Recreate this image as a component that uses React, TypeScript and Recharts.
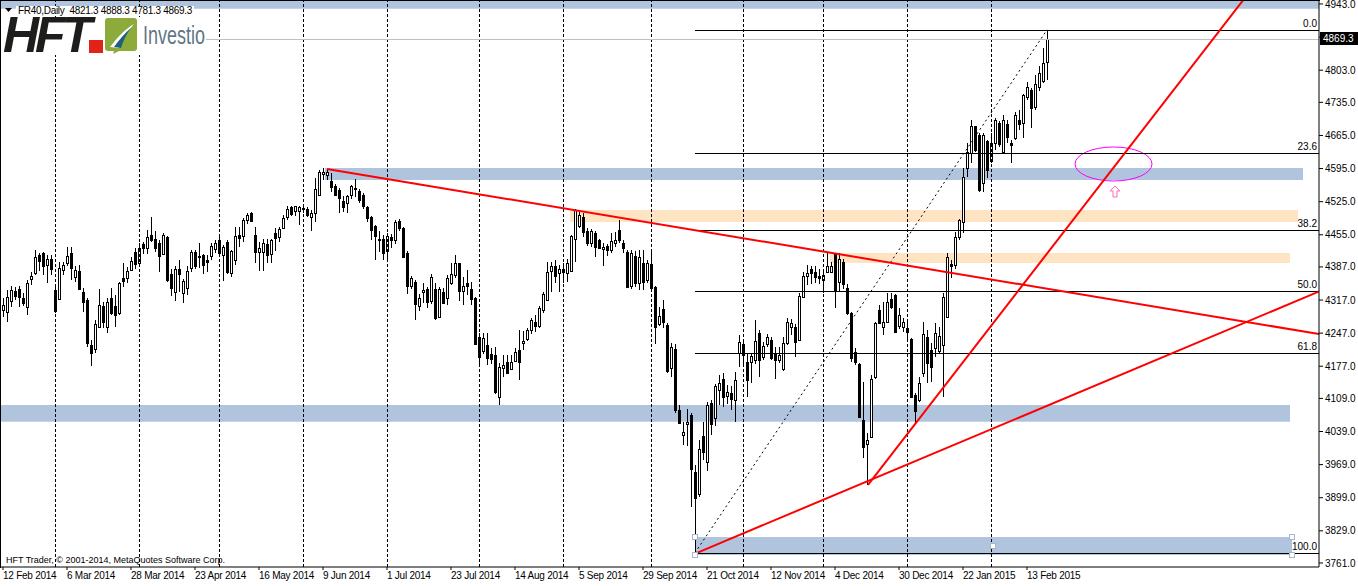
import React from "react";
import {
  ComposedChart,
  Bar,
  XAxis,
  YAxis,
  ReferenceLine,
  ReferenceArea,
  ReferenceDot,
} from "recharts";

const FONT = '"Liberation Sans", Arial, sans-serif';

// one label every 16 bars
const dateLabels = [
  "12 Feb 2014", "6 Mar 2014", "28 Mar 2014", "23 Apr 2014", "16 May 2014", "9 Jun 2014",
  "1 Jul 2014", "23 Jul 2014", "14 Aug 2014", "5 Sep 2014", "29 Sep 2014", "21 Oct 2014",
  "12 Nov 2014", "4 Dec 2014", "30 Dec 2014", "22 Jan 2015", "13 Feb 2015",
];
const LABEL_STEP = 16;

// FR40 daily OHLC, 12 Feb 2014 .. 20 Feb 2015
const opens = [
  4296, 4292, 4314, 4337, 4340, 4322, 4303, 4362, 4374, 4412,
  4417, 4392, 4403, 4338, 4319, 4381, 4396, 4417, 4365, 4378,
  4334, 4317, 4222, 4213, 4261, 4304, 4259, 4321, 4304, 4289,
  4363, 4363, 4381, 4419, 4396, 4436, 4426, 4455, 4445, 4438,
  4414, 4450, 4371, 4335, 4382, 4331, 4342, 4384, 4419, 4410,
  4412, 4402, 4410, 4424, 4443, 4412, 4440, 4375, 4402, 4455,
  4452, 4486, 4502, 4455, 4419, 4419, 4436, 4414, 4458, 4450,
  4470, 4493, 4513, 4506, 4506, 4509, 4509, 4493, 4500, 4540,
  4584, 4581, 4569, 4558, 4550, 4527, 4522, 4539, 4551, 4548,
  4539, 4513, 4492, 4474, 4445, 4447, 4421, 4451, 4443, 4485,
  4469, 4416, 4347, 4356, 4304, 4333, 4340, 4314, 4340, 4282,
  4335, 4321, 4354, 4370, 4395, 4337, 4354, 4340, 4321, 4238,
  4210, 4222, 4203, 4201, 4111, 4173, 4185, 4171, 4189, 4211,
  4226, 4234, 4254, 4270, 4262, 4296, 4317, 4379, 4389, 4375,
  4382, 4375, 4379, 4446, 4474, 4492, 4462, 4437, 4458, 4443,
  4424, 4431, 4423, 4438, 4465, 4438, 4419, 4347, 4410, 4352,
  4395, 4359, 4393, 4344, 4266, 4297, 4264, 4173, 4213, 4084,
  4032, 4054, 4074, 3954, 3907, 4029, 3975, 4099, 4067, 4127,
  4149, 4114, 4121, 4105, 4204, 4224, 4187, 4185, 4190, 4247,
  4196, 4224, 4233, 4203, 4190, 4171, 4226, 4259, 4259, 4233,
  4324, 4368, 4382, 4377, 4368, 4359, 4377, 4377, 4416, 4356,
  4398, 4342, 4290, 4208, 4182, 4063, 4013, 4028, 4155, 4296,
  4261, 4271, 4319, 4328, 4262, 4259, 4257, 4234, 4116, 4106,
  4163, 4238, 4211, 4215, 4210, 4222, 4282, 4393, 4391, 4451,
  4483, 4596, 4627, 4684, 4666, 4564, 4654, 4610, 4648, 4691,
  4631, 4689, 4650, 4659, 4698, 4691, 4746, 4761, 4726, 4768,
  4781, 4821.3,
];
const highs = [
  4321, 4338, 4347, 4344, 4347, 4331, 4359, 4377, 4423, 4416,
  4419, 4412, 4412, 4349, 4398, 4398, 4430, 4430, 4388, 4391,
  4342, 4321, 4233, 4275, 4340, 4312, 4321, 4342, 4328, 4356,
  4395, 4386, 4407, 4426, 4438, 4440, 4465, 4493, 4462, 4444,
  4458, 4452, 4382, 4388, 4402, 4361, 4389, 4423, 4423, 4438,
  4414, 4412, 4438, 4444, 4450, 4433, 4444, 4423, 4471, 4471,
  4490, 4502, 4504, 4471, 4440, 4445, 4445, 4445, 4469, 4471,
  4497, 4515, 4515, 4516, 4516, 4516, 4513, 4507, 4574, 4591,
  4596, 4595, 4586, 4562, 4553, 4536, 4539, 4560, 4572, 4551,
  4543, 4516, 4495, 4476, 4462, 4455, 4458, 4457, 4486, 4489,
  4472, 4420, 4368, 4360, 4330, 4352, 4345, 4372, 4352, 4345,
  4342, 4370, 4396, 4412, 4396, 4365, 4381, 4356, 4324, 4247,
  4248, 4248, 4215, 4217, 4183, 4201, 4201, 4201, 4215, 4254,
  4252, 4257, 4280, 4285, 4305, 4335, 4398, 4398, 4402, 4391,
  4395, 4403, 4455, 4509, 4504, 4500, 4469, 4467, 4462, 4445,
  4438, 4436, 4458, 4460, 4486, 4443, 4423, 4423, 4420, 4423,
  4423, 4402, 4423, 4346, 4302, 4318, 4268, 4226, 4225, 4095,
  4060, 4086, 4079, 3968, 4020, 4060, 4102, 4106, 4140, 4158,
  4162, 4138, 4135, 4165, 4243, 4233, 4204, 4204, 4275, 4254,
  4229, 4245, 4238, 4218, 4218, 4238, 4280, 4276, 4266, 4331,
  4377, 4391, 4388, 4389, 4382, 4379, 4416, 4398, 4417, 4416,
  4403, 4350, 4292, 4215, 4183, 4144, 4035, 4159, 4271, 4307,
  4312, 4331, 4331, 4330, 4300, 4280, 4270, 4236, 4120, 4155,
  4271, 4254, 4226, 4268, 4261, 4331, 4416, 4402, 4460, 4488,
  4596, 4648, 4697, 4685, 4670, 4670, 4655, 4670, 4701, 4695,
  4708, 4698, 4655, 4715, 4719, 4752, 4779, 4765, 4793, 4811,
  4849, 4888.3,
];
const lows = [
  4282, 4271, 4302, 4317, 4303, 4304, 4285, 4349, 4370, 4379,
  4370, 4352, 4370, 4289, 4317, 4370, 4388, 4359, 4356, 4338,
  4292, 4218, 4178, 4206, 4257, 4257, 4247, 4285, 4259, 4285,
  4345, 4354, 4379, 4383, 4395, 4414, 4414, 4440, 4419, 4377,
  4412, 4356, 4326, 4316, 4335, 4311, 4328, 4377, 4382, 4384,
  4372, 4377, 4402, 4417, 4409, 4358, 4372, 4365, 4391, 4430,
  4440, 4478, 4483, 4395, 4379, 4379, 4395, 4396, 4421, 4440,
  4467, 4486, 4495, 4495, 4476, 4500, 4493, 4464, 4481, 4536,
  4571, 4571, 4546, 4536, 4502, 4504, 4502, 4530, 4534, 4522,
  4509, 4483, 4444, 4402, 4419, 4402, 4401, 4428, 4436, 4462,
  4405, 4330, 4340, 4275, 4293, 4310, 4300, 4309, 4275, 4278,
  4309, 4307, 4349, 4363, 4314, 4307, 4328, 4307, 4222, 4176,
  4203, 4180, 4182, 4118, 4095, 4155, 4161, 4168, 4185, 4148,
  4211, 4231, 4245, 4250, 4258, 4290, 4315, 4335, 4352, 4335,
  4352, 4356, 4377, 4398, 4469, 4450, 4431, 4430, 4409, 4424,
  4388, 4410, 4416, 4430, 4437, 4417, 4342, 4340, 4345, 4338,
  4338, 4352, 4338, 4225, 4262, 4257, 4163, 4155, 4078, 4055,
  4010, 4008, 3880, 3782.5, 3900, 3978, 3956, 4032, 4050, 4095,
  4090, 4098, 4085, 4060, 4176, 4176, 4111, 4141, 4182, 4154,
  4190, 4217, 4190, 4149, 4183, 4166, 4222, 4243, 4196, 4231,
  4323, 4349, 4351, 4354, 4351, 4331, 4374, 4374, 4300, 4337,
  4340, 4285, 4187, 4180, 4069, 3982, 3926, 4025, 4151, 4268,
  4243, 4269, 4297, 4247, 4255, 4250, 4230, 4111, 4056, 4102,
  4155, 4141, 4144, 4197, 4204, 4113, 4279, 4363, 4383, 4444,
  4458, 4578, 4606, 4631, 4546, 4546, 4574, 4606, 4634, 4640,
  4629, 4650, 4607, 4655, 4677, 4659, 4740, 4680, 4719, 4758,
  4775, 4781.3,
];
const closes = [
  4307, 4323, 4338, 4326, 4324, 4310, 4354, 4368, 4407, 4400,
  4390, 4403, 4382, 4294, 4384, 4391, 4410, 4384, 4381, 4340,
  4312, 4227, 4206, 4266, 4307, 4271, 4312, 4290, 4285, 4352,
  4358, 4379, 4400, 4393, 4426, 4428, 4450, 4444, 4428, 4410,
  4455, 4359, 4343, 4382, 4372, 4358, 4379, 4419, 4389, 4407,
  4391, 4398, 4432, 4437, 4417, 4430, 4377, 4421, 4452, 4448,
  4486, 4497, 4485, 4419, 4426, 4437, 4412, 4443, 4448, 4467,
  4490, 4509, 4499, 4515, 4513, 4511, 4497, 4502, 4551, 4588,
  4588, 4588, 4555, 4539, 4532, 4514, 4536, 4558, 4553, 4529,
  4516, 4490, 4465, 4452, 4444, 4417, 4452, 4443, 4481, 4469,
  4409, 4347, 4363, 4309, 4321, 4338, 4312, 4365, 4278, 4340,
  4310, 4363, 4372, 4396, 4337, 4347, 4347, 4319, 4224, 4197,
  4236, 4194, 4192, 4123, 4175, 4180, 4162, 4187, 4208, 4187,
  4231, 4254, 4275, 4262, 4300, 4330, 4377, 4389, 4368, 4382,
  4377, 4396, 4452, 4507, 4497, 4460, 4437, 4462, 4430, 4426,
  4430, 4423, 4441, 4444, 4444, 4426, 4345, 4416, 4352, 4407,
  4356, 4395, 4342, 4259, 4283, 4271, 4166, 4217, 4084, 4056,
  4037, 4060, 3959, 3898, 4001, 3996, 4095, 4055, 4135, 4142,
  4113, 4123, 4107, 4148, 4229, 4201, 4148, 4199, 4231, 4190,
  4220, 4238, 4194, 4190, 4201, 4227, 4271, 4269, 4229, 4326,
  4368, 4374, 4374, 4365, 4363, 4370, 4388, 4389, 4337, 4403,
  4350, 4290, 4194, 4187, 4070, 4006, 4021, 4151, 4268, 4269,
  4271, 4312, 4303, 4250, 4285, 4271, 4250, 4113, 4083, 4141,
  4245, 4183, 4176, 4248, 4240, 4324, 4409, 4388, 4451, 4486,
  4578, 4631, 4685, 4634, 4550, 4666, 4592, 4648, 4698, 4647,
  4698, 4661, 4645, 4708, 4689, 4751, 4768, 4722, 4774, 4796,
  4819, 4869.3,
];

// first bar of each month (period separators)
const monthStarts = [13, 34, 54, 75, 96, 119, 140, 162, 185, 205, 226, 247];

const priceTicks = [
  4943, 4873, 4803, 4735, 4665, 4595, 4525, 4455, 4387, 4317, 4247, 4177,
  4109, 4039, 3969, 3899, 3829, 3761,
];

const fibLevels = [0, 23.6, 38.2, 50, 61.8, 100];
const fibHigh = 4888.3;
const fibLow = 3782.5;
const fibFromBar = 173;
const fibToBar = 261;
const lastPrice = 4869.3;

// zones: [fromBar, toBar, lowPrice, highPrice]
const blueZones = [
  [-0.5, 329, 4933, 4960],
  [80.5, 325, 4570.8, 4596.2],
  [-0.5, 321.75, 4059.8, 4095.1],
  [173, 322.25, 3778, 3816],
];
const peachZones = [
  [141.75, 323.75, 4482, 4507.4],
  [206.75, 321.75, 4395.4, 4416.5],
];

// trend lines: [bar1, price1, bar2, price2]
const trendLines = [
  [81, 4594.1, 335, 4236.7],
  [173.5, 3782.5, 335, 4356.3],
  [216.25, 3926, 335, 5224],
];

const candles = opens.map((o, i) => ({
  i,
  o,
  h: highs[i],
  l: lows[i],
  c: closes[i],
  range: [lows[i], highs[i]],
}));

const Candle = (props: any) => {
  const { x, y, width, height, payload } = props;
  if (!payload || payload.o == null) return null;
  const { o, h, l, c } = payload;
  const top = Math.min(y, y + height);
  const hh = Math.abs(height);
  const cx = Math.round(x + width / 2);
  const py = (v: number) => (h === l ? top : top + ((h - v) / (h - l)) * hh);
  const bTop = Math.round(py(Math.max(o, c)));
  const bBot = Math.round(py(Math.min(o, c)));
  const bull = c >= o;
  return (
    <g>
      <line x1={cx + 0.5} x2={cx + 0.5} y1={Math.round(top)} y2={Math.round(top + hh)} stroke="#000" />
      <rect
        x={cx - 0.5}
        y={bTop + 0.5}
        width={2}
        height={Math.max(bBot - bTop, 0)}
        fill={bull ? "#fff" : "#000"}
        stroke="#000"
      />
    </g>
  );
};

const CrispLine = (p: any) => {
  const { x1, y1, x2, y2, stroke, strokeDasharray, clipPath } = p;
  const vert = Math.abs(x1 - x2) < 0.01;
  const hor = Math.abs(y1 - y2) < 0.01;
  return (
    <line
      x1={vert ? Math.round(x1) + 0.5 : x1}
      x2={vert ? Math.round(x2) + 0.5 : x2}
      y1={hor ? Math.round(y1) + 0.5 : y1}
      y2={hor ? Math.round(y2) + 0.5 : y2}
      stroke={stroke}
      strokeDasharray={strokeDasharray}
      strokeWidth={1}
      clipPath={clipPath}
    />
  );
};

const DateTick = (props: any) => {
  const { x, y, payload } = props;
  const label = dateLabels[Math.round(payload.value / LABEL_STEP)];
  return (
    <text
      x={x}
      y={y + 8}
      fontSize={10}
      fontFamily={FONT}
      letterSpacing={-0.25}
      fill="#000"
      textAnchor="start"
    >
      {label}
    </text>
  );
};

const Ellipse = (props: any) => {
  const { x, y, width, height } = props;
  return (
    <ellipse
      cx={x + width / 2}
      cy={y + height / 2}
      rx={width / 2}
      ry={height / 2}
      fill="none"
      stroke="#ff00ff"
      strokeWidth={1}
    />
  );
};

const UpArrow = (props: any) => {
  const { cx, cy } = props;
  const d = `M${cx},${cy - 6} L${cx + 5},${cy - 1} L${cx + 2},${cy - 1} L${cx + 2},${cy + 5} L${cx - 2},${cy + 5} L${cx - 2},${cy - 1} L${cx - 5},${cy - 1} Z`;
  return <path d={d} fill="none" stroke="#ff69b4" strokeWidth={1} />;
};

const Handle = (props: any) => {
  const { cx, cy, fill } = props;
  return (
    <rect x={Math.round(cx) - 2.5} y={Math.round(cy) - 2.5} width={5} height={5} fill={fill} stroke="#aab6c8" />
  );
};

const fibLabel = (text: string) => (props: any) => {
  const { cx, cy } = props;
  return (
    <text x={cx + 2} y={cy - 3} fontSize={10} fontFamily={FONT} fill="#000" textAnchor="end">
      {text}
    </text>
  );
};

export default function App() {
  const fibPrice = (lvl: number) => fibHigh - (lvl / 100) * (fibHigh - fibLow);
  return (
    <div
      style={{
        position: "absolute",
        left: 0,
        top: 0,
        width: 1358,
        height: 586,
        background: "#fff",
        overflow: "hidden",
        fontFamily: FONT,
      }}
    >
      <ComposedChart
        width={1358}
        height={586}
        data={candles}
        margin={{ top: 1, right: 0, bottom: 1, left: 1 }}
      >
        <XAxis
          dataKey="i"
          type="number"
          domain={[-0.5, 329]}
          allowDataOverflow
          ticks={dateLabels.map((_, k) => k * LABEL_STEP)}
          interval={0}
          height={18}
          tickSize={3}
          tickMargin={1}
          stroke="#000"
          tick={<DateTick />}
        />
        <YAxis
          orientation="right"
          type="number"
          domain={[3752.5, 4949.3]}
          allowDataOverflow
          ticks={priceTicks}
          interval={0}
          width={39}
          tickSize={4}
          tickMargin={2}
          stroke="#000"
          tick={{ fontSize: 10, fill: "#000", fontFamily: FONT }}
          tickFormatter={(v: number) => v.toFixed(1)}
        />

        {blueZones.map((z, k) => (
          <ReferenceArea
            key={"b" + k}
            x1={z[0]}
            x2={z[1]}
            y1={z[2]}
            y2={z[3]}
            fill="#b0c4de"
            fillOpacity={1}
            stroke="none"
            ifOverflow="hidden"
          />
        ))}
        {peachZones.map((z, k) => (
          <ReferenceArea
            key={"p" + k}
            x1={z[0]}
            x2={z[1]}
            y1={z[2]}
            y2={z[3]}
            fill="#ffe4c4"
            fillOpacity={1}
            stroke="none"
            ifOverflow="hidden"
          />
        ))}

        {monthStarts.map((m) => (
          <ReferenceLine
            key={"m" + m}
            x={m}
            stroke="#000"
            strokeDasharray="3 2"
            ifOverflow="hidden"
            shape={<CrispLine />}
          />
        ))}

        <ReferenceLine y={lastPrice} stroke="#c0c0c0" ifOverflow="hidden" shape={<CrispLine />} />

        {fibLevels.map((lvl) => (
          <ReferenceLine
            key={"f" + lvl}
            segment={[
              { x: fibFromBar, y: fibPrice(lvl) },
              { x: 329, y: fibPrice(lvl) },
            ]}
            stroke="#000"
            ifOverflow="hidden"
            shape={<CrispLine />}
          />
        ))}
        {fibLevels.map((lvl) => (
          <ReferenceDot
            key={"fl" + lvl}
            x={328}
            y={fibPrice(lvl)}
            r={1}
            ifOverflow="hidden"
            shape={fibLabel(lvl.toFixed(1))}
          />
        ))}
        <ReferenceLine
          segment={[
            { x: fibFromBar, y: fibLow },
            { x: fibToBar, y: fibHigh },
          ]}
          stroke="#000"
          strokeWidth={1}
          strokeDasharray="2 3"
          ifOverflow="hidden"
        />

        <Bar dataKey="range" barSize={3} isAnimationActive={false} shape={<Candle />} />

        {trendLines.map((t, k) => (
          <ReferenceLine
            key={"t" + k}
            segment={[
              { x: t[0], y: t[1] },
              { x: t[2], y: t[3] },
            ]}
            stroke="#ff0000"
            strokeWidth={2}
            ifOverflow="hidden"
          />
        ))}

        <ReferenceArea
          x1={268}
          x2={287.25}
          y1={4568.7}
          y2={4640.6}
          ifOverflow="hidden"
          shape={<Ellipse />}
        />
        <ReferenceDot x={278} y={4545.5} r={5} ifOverflow="hidden" shape={<UpArrow />} />

        <ReferenceDot x={173} y={3816} r={2} ifOverflow="hidden" shape={<Handle fill="#fff" />} />
        <ReferenceDot x={173} y={3778} r={2} ifOverflow="hidden" shape={<Handle fill="#fff" />} />
        <ReferenceDot x={322.25} y={3816} r={2} ifOverflow="hidden" shape={<Handle fill="#fff" />} />
        <ReferenceDot x={322.25} y={3778} r={2} ifOverflow="hidden" shape={<Handle fill="#fff" />} />
        <ReferenceDot x={247.6} y={3797} r={2} ifOverflow="hidden" shape={<Handle fill="#fff" />} />
      </ComposedChart>

      {/* frame top/left */}
      <div
        style={{
          position: "absolute",
          left: 0,
          top: 0,
          width: 1320,
          height: 568,
          borderTop: "1px solid #000",
          borderLeft: "1px solid #000",
          boxSizing: "border-box",
          pointerEvents: "none",
        }}
      />

      {/* header */}
      <svg style={{ position: "absolute", left: 5, top: 8 }} width={8} height={5}>
        <path d="M0,0 H7 L3.5,4 Z" fill="#000" />
      </svg>
      <div
        style={{
          position: "absolute",
          left: 16,
          top: 6,
          height: 10,
          padding: "0 2px",
          background: "#fff",
          fontSize: 10,
          lineHeight: "10px",
          letterSpacing: -0.3,
          color: "#000",
          whiteSpace: "pre",
        }}
      >
        {"FR40,Daily  4821.3 4888.3 4781.3 4869.3"}
      </div>

      {/* logo */}
      <div
        style={{
          position: "absolute",
          left: 1,
          top: 17,
          width: 205,
          height: 38,
          background: "#fff",
        }}
      >
        <span
          style={{
            position: "absolute",
            left: 2,
            top: -1,
            fontSize: 50,
            fontWeight: 900,
            fontStyle: "italic",
            letterSpacing: -4,
            color: "#1d1d1b",
            lineHeight: "38px",
            height: 38,
            overflow: "visible",
          }}
        >
          HFT
        </span>
        <div style={{ position: "absolute", left: 88, top: 23, width: 14, height: 13, background: "#e2231a" }} />
        <svg style={{ position: "absolute", left: 104, top: 1 }} width={32} height={36}>
          <path d="M3,0 H29 Q32,0 32,3 V30 Q32,33 29,33 H14 L8,36 L9,33 H3 Q0,33 0,30 V3 Q0,0 3,0 Z" fill="#8cab3a" />
          <path d="M5,29 C12,20 20,11 29,6 C22,14 17,22 14,30 Z" fill="#fff" />
          <path d="M9,29 C14,22 20,15 26,10 C21,17 18,23 16,30 Z" fill="#1f5f7a" />
        </svg>
        <span
          style={{
            position: "absolute",
            left: 142,
            top: 4,
            fontSize: 25,
            color: "#5f7686",
            lineHeight: "28px",
            transform: "scaleX(0.72)",
            transformOrigin: "left center",
            whiteSpace: "nowrap",
          }}
        >
          Investio
        </span>
      </div>

      {/* copyright */}
      <div
        style={{
          position: "absolute",
          left: 6,
          top: 555,
          fontSize: 9,
          lineHeight: "11px",
          color: "#000",
          whiteSpace: "nowrap",
        }}
      >
        HFT Trader, © 2001-2014, MetaQuotes Software Corp.
      </div>

      {/* last price tag */}
      <div
        style={{
          position: "absolute",
          left: 1320,
          top: 32,
          width: 38,
          height: 13,
          background: "#000",
          color: "#fff",
          fontSize: 10,
          lineHeight: "13px",
          paddingLeft: 3,
          boxSizing: "border-box",
        }}
      >
        4869.3
      </div>
    </div>
  );
}
